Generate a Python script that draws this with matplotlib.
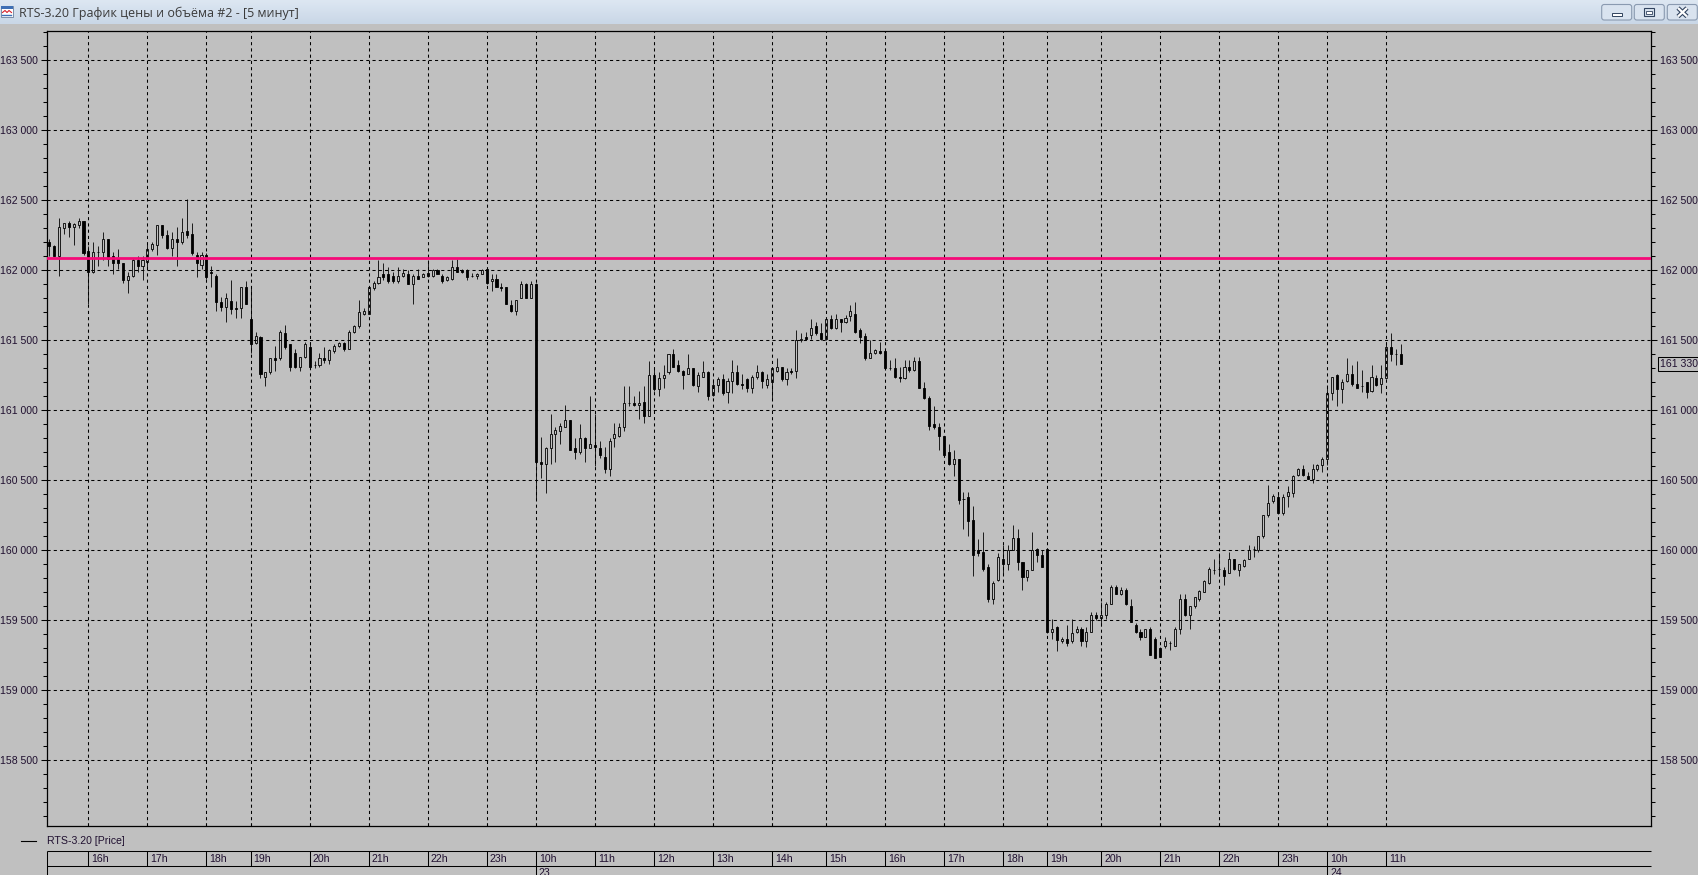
import numpy as np
import matplotlib
matplotlib.use("Agg")
import matplotlib.pyplot as plt
from matplotlib.patches import Rectangle, FancyBboxPatch
from matplotlib.colors import LinearSegmentedColormap

## -----------------------------------------------
# data: RTS-3.20, 5 min candles
## -----------------------------------------------
opens = [
    162200, 162170, 162100, 162300, 162340, 162310, 162320, 162350, 162140, 161990, 162130, 162130,
    162220, 162100, 162080, 162050, 161930, 161960, 162070, 162030, 162060, 162150, 162180, 162320,
    162250, 162160, 162220, 162200, 162280, 162260, 162110, 162040, 162110, 161990, 161960, 161770,
    161740, 161780, 161730, 161730, 161880, 161650, 161480, 161520, 161240, 161270, 161370, 161370,
    161550, 161470, 161410, 161310, 161380, 161450, 161320, 161320, 161370, 161360, 161420, 161460,
    161480, 161440, 161560, 161600, 161690, 161690, 161870, 161910, 161970, 161970, 161960, 161920,
    161960, 161970, 161900, 161960, 161950, 161980, 161960, 162000, 161960, 161930, 161940, 162020,
    162000, 162000, 161960, 161960, 161970, 162010, 161920, 161940, 161880, 161880, 161750, 161710,
    161800, 161900, 161800, 161900, 160630, 160620, 160730, 160830, 160850, 160880, 160930, 160730,
    160700, 160800, 160730, 160750, 160730, 160670, 160580, 160800, 160820, 160880, 161050, 161050,
    161040, 161060, 160960, 161250, 161150, 161230, 161270, 161400, 161320, 161280, 161260, 161300,
    161170, 161240, 161270, 161110, 161180, 161220, 161130, 161210, 161270, 161190, 161220, 161160,
    161240, 161270, 161180, 161200, 161280, 161310, 161220, 161280, 161280, 161500, 161520, 161540,
    161600, 161550, 161510, 161650, 161590, 161650, 161630, 161670, 161690, 161570, 161530, 161370,
    161410, 161420, 161420, 161300, 161300, 161240, 161230, 161310, 161290, 161350, 161160, 161090,
    160900, 160880, 160820, 160700, 160620, 160650, 160370, 160380, 160220, 160000, 159990, 159880,
    159650, 159790, 159940, 159900, 160000, 160090, 159920, 159810, 159860, 160010, 159970, 160010,
    159420, 159450, 159350, 159370, 159350, 159420, 159440, 159350, 159420, 159540, 159520, 159540,
    159620, 159740, 159690, 159720, 159600, 159470, 159420, 159380, 159440, 159370, 159300, 159320,
    159340, 159320, 159440, 159650, 159540, 159600, 159650, 159700, 159770, 159860, 159870, 159860,
    159840, 159940, 159860, 159890, 159940, 160010, 160000, 160100, 160250, 160350, 160380, 160270,
    160390, 160410, 160540, 160580, 160530, 160510, 160580, 160610, 160650, 161120, 161250, 161150,
    161210, 161260, 161190, 161170, 161200, 161140, 161230, 161190, 161230, 161450, 161400, 161400,
]
highs = [
    162220, 162180, 162370, 162340, 162350, 162340, 162370, 162350, 162170, 162200, 162170, 162270,
    162220, 162130, 162150, 162050, 161990, 162090, 162100, 162100, 162190, 162200, 162320, 162320,
    162290, 162270, 162310, 162370, 162510, 162340, 162130, 162130, 162120, 162030, 161970, 161810,
    161840, 161930, 161780, 161880, 161920, 161870, 161560, 161530, 161270, 161370, 161460, 161570,
    161610, 161470, 161440, 161380, 161490, 161490, 161350, 161410, 161450, 161440, 161470, 161490,
    161490, 161570, 161610, 161790, 161730, 161880, 161920, 162070, 162050, 162020, 161990, 162020,
    162010, 162000, 161970, 162010, 161980, 162070, 162010, 162010, 161970, 161960, 162070, 162080,
    162010, 162010, 161980, 161980, 162010, 162010, 161970, 161970, 161910, 161880, 161790, 161790,
    161920, 161910, 161920, 161910, 160810, 160740, 160970, 160880, 160910, 161040, 160930, 160800,
    160900, 160810, 161100, 160970, 160780, 160740, 160800, 160910, 160910, 161170, 161170, 161100,
    161140, 161170, 161350, 161310, 161270, 161320, 161400, 161440, 161360, 161290, 161400, 161300,
    161270, 161350, 161280, 161220, 161240, 161260, 161230, 161360, 161320, 161260, 161230, 161250,
    161320, 161280, 161260, 161300, 161370, 161310, 161300, 161300, 161570, 161550, 161560, 161650,
    161630, 161620, 161660, 161680, 161690, 161650, 161680, 161750, 161770, 161590, 161550, 161500,
    161440, 161490, 161420, 161360, 161370, 161310, 161360, 161360, 161380, 161380, 161200, 161100,
    161030, 160910, 160820, 160760, 160720, 160650, 160420, 160420, 160320, 160080, 160130, 159900,
    159780, 159980, 160040, 160040, 160180, 160150, 159920, 159860, 160130, 160020, 160000, 160020,
    159510, 159460, 159380, 159470, 159510, 159460, 159450, 159450, 159560, 159560, 159630, 159630,
    159750, 159750, 159740, 159730, 159650, 159480, 159440, 159440, 159450, 159380, 159310, 159380,
    159350, 159450, 159690, 159690, 159600, 159670, 159720, 159790, 159880, 159940, 159980, 159880,
    159990, 159940, 159900, 159940, 160040, 160030, 160100, 160250, 160470, 160400, 160410, 160400,
    160460, 160540, 160590, 160610, 160560, 160620, 160620, 160670, 161180, 161240, 161260, 161220,
    161370, 161320, 161350, 161290, 161200, 161320, 161250, 161320, 161480, 161550, 161440, 161470,
]
lows = [
    162100, 162100, 161960, 162260, 162240, 162180, 162300, 162110, 161760, 161980, 162030, 162070,
    162030, 161970, 162010, 161910, 161840, 161950, 161990, 161930, 162010, 162140, 162110, 162230,
    162150, 162100, 162030, 162190, 162230, 162110, 161950, 162010, 161940, 161880, 161710, 161710,
    161630, 161690, 161660, 161660, 161760, 161410, 161470, 161230, 161170, 161260, 161280, 161360,
    161440, 161280, 161300, 161280, 161370, 161300, 161300, 161310, 161340, 161330, 161410, 161450,
    161420, 161440, 161550, 161590, 161680, 161690, 161860, 161900, 161930, 161910, 161910, 161910,
    161950, 161900, 161760, 161940, 161950, 161950, 161950, 161970, 161910, 161920, 161930, 161990,
    161980, 161930, 161950, 161940, 161970, 161900, 161850, 161880, 161850, 161760, 161700, 161680,
    161800, 161800, 161800, 160370, 160520, 160410, 160620, 160630, 160760, 160880, 160720, 160650,
    160690, 160630, 160730, 160600, 160660, 160550, 160530, 160740, 160810, 160850, 161030, 161030,
    160940, 160910, 160960, 161140, 161100, 161160, 161260, 161310, 161270, 161150, 161260, 161170,
    161130, 161240, 161070, 161100, 161130, 161110, 161050, 161120, 161180, 161150, 161130, 161120,
    161220, 161160, 161160, 161070, 161270, 161210, 161180, 161260, 161230, 161490, 161500, 161510,
    161540, 161500, 161500, 161580, 161580, 161560, 161620, 161640, 161550, 161480, 161360, 161370,
    161400, 161400, 161290, 161290, 161230, 161200, 161220, 161270, 161280, 161160, 161080, 160860,
    160870, 160720, 160670, 160610, 160530, 160330, 160150, 160100, 159820, 159960, 159850, 159630,
    159620, 159780, 159830, 159860, 160000, 159860, 159720, 159780, 159860, 159920, 159880, 159410,
    159370, 159280, 159340, 159320, 159340, 159410, 159320, 159310, 159420, 159500, 159460, 159510,
    159620, 159690, 159680, 159610, 159490, 159410, 159360, 159380, 159250, 159230, 159240, 159300,
    159290, 159320, 159400, 159530, 159440, 159590, 159640, 159700, 159760, 159830, 159820, 159750,
    159840, 159860, 159820, 159880, 159940, 159950, 159990, 160090, 160240, 160340, 160260, 160250,
    160310, 160380, 160530, 160530, 160510, 160480, 160570, 160560, 160610, 161070, 161030, 161050,
    161200, 161170, 161160, 161130, 161090, 161130, 161170, 161120, 161220, 161350, 161320, 161330,
]
closes = [
    162170, 162100, 162310, 162340, 162310, 162330, 162350, 162120, 161990, 162130, 162130, 162220,
    162080, 162050, 162050, 161930, 161960, 162070, 162030, 162070, 162150, 162190, 162320, 162250,
    162160, 162220, 162200, 162270, 162250, 162120, 162050, 162110, 161950, 161980, 161770, 161740,
    161800, 161720, 161720, 161880, 161760, 161470, 161530, 161260, 161270, 161370, 161360, 161560,
    161450, 161310, 161310, 161380, 161470, 161310, 161320, 161370, 161360, 161430, 161460, 161480,
    161440, 161560, 161600, 161700, 161710, 161880, 161910, 161950, 161950, 161920, 161920, 161960,
    161980, 161900, 161960, 161940, 161970, 161960, 162000, 161970, 161920, 161950, 162020, 161990,
    161990, 161950, 161960, 161970, 162000, 161910, 161940, 161880, 161870, 161760, 161710, 161790,
    161900, 161800, 161900, 160630, 160620, 160730, 160830, 160860, 160890, 160930, 160720, 160700,
    160800, 160730, 160760, 160740, 160680, 160580, 160780, 160830, 160880, 161050, 161050, 161040,
    161050, 160960, 161250, 161150, 161230, 161250, 161400, 161310, 161280, 161250, 161300, 161180,
    161250, 161270, 161100, 161180, 161220, 161120, 161210, 161270, 161190, 161180, 161160, 161240,
    161270, 161210, 161220, 161300, 161310, 161220, 161270, 161270, 161500, 161510, 161510, 161590,
    161550, 161510, 161650, 161590, 161650, 161630, 161660, 161710, 161560, 161520, 161370, 161410,
    161430, 161410, 161300, 161300, 161240, 161230, 161310, 161290, 161350, 161160, 161090, 160890,
    160880, 160820, 160680, 160620, 160650, 160360, 160370, 160210, 159970, 159980, 159870, 159650,
    159770, 159950, 159900, 160000, 160090, 159920, 159810, 159860, 160000, 159970, 159880, 159420,
    159440, 159360, 159370, 159340, 159410, 159440, 159350, 159420, 159540, 159520, 159540, 159620,
    159740, 159690, 159720, 159620, 159490, 159420, 159380, 159440, 159250, 159230, 159240, 159350,
    159340, 159440, 159650, 159540, 159600, 159670, 159710, 159780, 159870, 159860, 159870, 159820,
    159940, 159870, 159900, 159930, 160000, 160010, 160100, 160250, 160340, 160390, 160270, 160380,
    160420, 160530, 160580, 160540, 160510, 160580, 160610, 160650, 161120, 161240, 161150, 161200,
    161260, 161190, 161160, 161170, 161130, 161240, 161180, 161230, 161450, 161400, 161400, 161330,
]

# bar index where each hour starts
hour_idx = [8, 20, 32, 41, 53, 65, 77, 89, 99, 111, 123, 135, 147, 158, 170, 182, 194, 203,
            214, 226, 238, 250, 260, 272]
hour_labels = ["16h", "17h", "18h", "19h", "20h", "21h", "22h", "23h", "10h", "11h", "12h", "13h",
               "14h", "15h", "16h", "17h", "18h", "19h", "20h", "21h", "22h", "23h", "10h", "11h"]
day_idx = [99, 260]
day_labels = ["23", "24"]
price_ticks = list(range(158500, 164000, 500))
level = 162085          # horizontal line
last_price = 161330

title = "RTS-3.20 График цены и объёма #2 - [5 минут]"
legend_text = "RTS-3.20 [Price]"

## -----------------------------------------------
# layout helpers (pixels)
## -----------------------------------------------
W, H = 1699, 875
BG = "#c0c0c0"
TXT = "#201030"
FS = 7.6

plt.rcParams["font.family"] = ["Liberation Sans", "DejaVu Sans"]


def fbox(x0, y0, x1, y1):
    return [x0 / W, 1 - y1 / H, (x1 - x0) / W, (y1 - y0) / H]


def fmt_price(v):
    return f"{int(v):,}".replace(",", " ")


fig = plt.figure(figsize=(W / 100, H / 100), dpi=100, facecolor=BG)

# window title bar
tb = fig.add_axes(fbox(0, 0, W, 24))
grad = np.linspace(0, 1, 50).reshape(-1, 1)
tb.imshow(grad, aspect="auto", extent=[0, 1, 0, 1],
          cmap=LinearSegmentedColormap.from_list("tb", ["#dde7f2", "#c9d7e7"]))
tb.axis("off")

## -----------------------------------------------
# main price axes
## -----------------------------------------------
ax = fig.add_axes(fbox(46.7, 31, 1651.4, 826))
ax.set_facecolor(BG)

o = np.array(opens)
h = np.array(highs)
l = np.array(lows)
c = np.array(closes)
idx = np.arange(len(o))
up = c >= o
dn = ~up

ax.vlines(idx, l, h, color="k", lw=0.6, zorder=1)
ax.bar(idx[up], (c - o)[up], bottom=o[up], width=0.42, facecolor=BG, edgecolor="k",
       lw=0.6, zorder=1.5)
ax.bar(idx[dn], (o - c)[dn], bottom=c[dn], width=0.42, facecolor="k", edgecolor="k",
       lw=0.6, zorder=1.5)

ax.axhline(level, color="#f50a78", lw=2.0, zorder=3)

ax.set_xlim(-0.49, 325.93)
ax.set_ylim(158031, 163709)

ax.set_yticks(price_ticks)
ax.set_yticklabels([fmt_price(p) for p in price_ticks])
ax.set_yticks(range(158100, 163800, 100), minor=True)
ax.set_xticks(hour_idx)
ax.set_xticklabels([])
ax.tick_params(axis="y", which="both", direction="out", left=True, right=True,
               labelleft=True, labelright=True, labelsize=FS, labelcolor=TXT,
               width=0.75, pad=2.2)
ax.tick_params(axis="y", which="major", length=4.3)
ax.tick_params(axis="y", which="minor", length=2.9)
ax.tick_params(axis="x", which="major", direction="in", length=2.2, width=0.75,
               bottom=True, top=False)

ax.set_axisbelow(False)
ax.grid(True, which="major", color="k", linestyle=(0, (3, 3)), linewidth=0.75)
for s in ax.spines.values():
    s.set_linewidth(0.9)

ax.annotate(fmt_price(last_price), xy=(1, last_price), xycoords=("axes fraction", "data"),
            xytext=(6.2, 0), textcoords="offset points", ha="left", va="center",
            fontsize=FS, color=TXT, annotation_clip=False,
            bbox=dict(boxstyle="square,pad=0.22", fc=BG, ec="k", lw=0.75))

## -----------------------------------------------
# time scale under the chart
## -----------------------------------------------
tax = fig.add_axes(fbox(46.7, 850.7, 1651.4, 875))
tax.set_xlim(ax.get_xlim())
tax.set_ylim(875 - 850.7, 0)
tax.axis("off")
x0, x1 = ax.get_xlim()
tax.hlines([0.5, 15.6], x0, x1, color="k", lw=0.75, clip_on=False)
tax.vlines([x0], 0.5, 25, color="k", lw=0.75, clip_on=False)
tax.vlines(hour_idx, 0.5, 15.6, color="k", lw=0.75)
tax.vlines(day_idx, 15.6, 25, color="k", lw=0.75, clip_on=False)
for k, lab in zip(hour_idx, hour_labels):
    tax.text(k + 0.6, 8.2, lab, fontsize=FS, color=TXT, va="center", ha="left")
# date row sits at the bottom edge of the window, as in the original
for k, lab in zip(day_idx, day_labels):
    tax.text(k + 0.6, 17.6, lab, fontsize=FS, color=TXT, va="top", ha="left")

## -----------------------------------------------
# overlay in pixel coords: title, buttons, legend
## -----------------------------------------------
ov = fig.add_axes([0, 0, 1, 1], facecolor="none")
ov.set_xlim(0, W)
ov.set_ylim(H, 0)
ov.axis("off")

ov.text(19, 13.5, title, fontsize=9.0, family=["Open Sans", "DejaVu Sans"],
        color="#3a3a3a", va="center", ha="left")

# little window icon
ov.add_patch(Rectangle((1, 6), 12, 11, fc="white", ec="#6a7f9c", lw=0.6))
ov.add_patch(Rectangle((1, 6), 12, 2.5, fc="#3e6fb5", ec="none"))
ov.plot([2.5, 5, 7, 9, 11.5], [12.5, 10.5, 12.5, 10.5, 12.5], color="#d8202a", lw=0.8)
ov.plot([2.5, 11.5], [15.2, 15.2], color="#3e6fb5", lw=1.0)

# window buttons
for bx in [1601.7, 1634.3, 1667.3]:
    ov.add_patch(FancyBboxPatch((bx, 4.5), 30, 15.5, boxstyle="round,pad=0,rounding_size=2.5",
                                fc="#d9e3ef", ec="#8a9ab0", lw=0.8))
ov.add_patch(Rectangle((1612, 12.5), 10.5, 3, fc="white", ec="#31435e", lw=0.7))
ov.add_patch(Rectangle((1644.5, 8), 10, 8, fc="none", ec="#31435e", lw=0.8))
ov.add_patch(Rectangle((1646.5, 10.5), 6, 3, fc="white", ec="#31435e", lw=0.6))
ov.plot([1678, 1687], [8, 16.5], color="#31435e", lw=3.2, solid_capstyle="butt")
ov.plot([1678, 1687], [16.5, 8], color="#31435e", lw=3.2, solid_capstyle="butt")
ov.plot([1678, 1687], [8, 16.5], color="white", lw=1.6, solid_capstyle="butt")
ov.plot([1678, 1687], [16.5, 8], color="white", lw=1.6, solid_capstyle="butt")

# legend line
ov.plot([21, 36], [840.7, 840.7], color="k", lw=0.8)
ov.text(47, 840.7, legend_text, fontsize=FS, color=TXT, va="center", ha="left")

fig.savefig("out.png", dpi=100, facecolor=BG)
